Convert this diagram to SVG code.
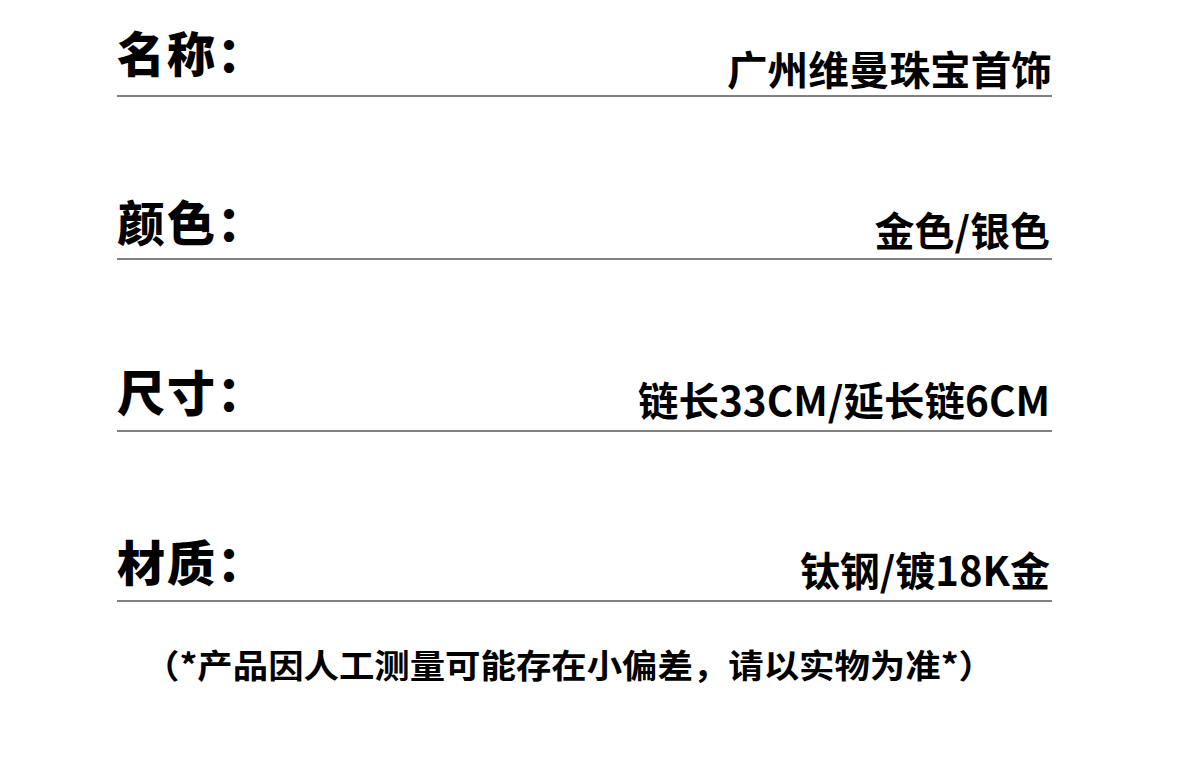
<svg xmlns="http://www.w3.org/2000/svg" width="1200" height="758" viewBox="0 0 1200 758">
<style>
.lbl{font-family:"Noto Sans CJK SC","Noto Sans",sans-serif;font-weight:900;font-size:48px;fill:#000}
.val{font-family:"Noto Sans CJK SC","Open Sans",sans-serif;font-weight:700;font-size:40px;fill:#000;text-anchor:end}
.note{font-family:"Noto Sans CJK SC",sans-serif;font-weight:700;font-size:33px;fill:#000}
.rule{stroke:#808080;stroke-width:2}
</style>
<rect width="1200" height="758" fill="#fff"/>
<g id="connectors">
<line class="rule" x1="117" y1="96" x2="1052" y2="96"/>
<line class="rule" x1="117" y1="259" x2="1052" y2="259"/>
<line class="rule" x1="117" y1="431" x2="1052" y2="431"/>
<line class="rule" x1="117" y1="601" x2="1052" y2="601"/>
</g>
<g id="row-name">
<text class="lbl" x="117" y="72" letter-spacing="2">名称：</text>
<text class="val" x="1052" y="85" textLength="325" lengthAdjust="spacingAndGlyphs">广州维曼珠宝首饰</text>
</g>
<g id="row-color">
<text class="lbl" x="117" y="241" letter-spacing="2">颜色：</text>
<text class="val" x="1050" y="246">金色/银色</text>
</g>
<g id="row-size">
<text class="lbl" x="117" y="411" letter-spacing="2">尺寸：</text>
<text class="val" x="1050" y="416" textLength="412" lengthAdjust="spacingAndGlyphs">链长33CM/延长链6CM</text>
</g>
<g id="row-material">
<text class="lbl" x="117" y="581" letter-spacing="2">材质：</text>
<text class="val" x="1050" y="586">钛钢/镀18K金</text>
</g>
<g id="note">
<text class="note" x="144" y="678" textLength="850" lengthAdjust="spacingAndGlyphs">（*产品因人工测量可能存在小偏差，请以实物为准*）</text>
</g>
</svg>
